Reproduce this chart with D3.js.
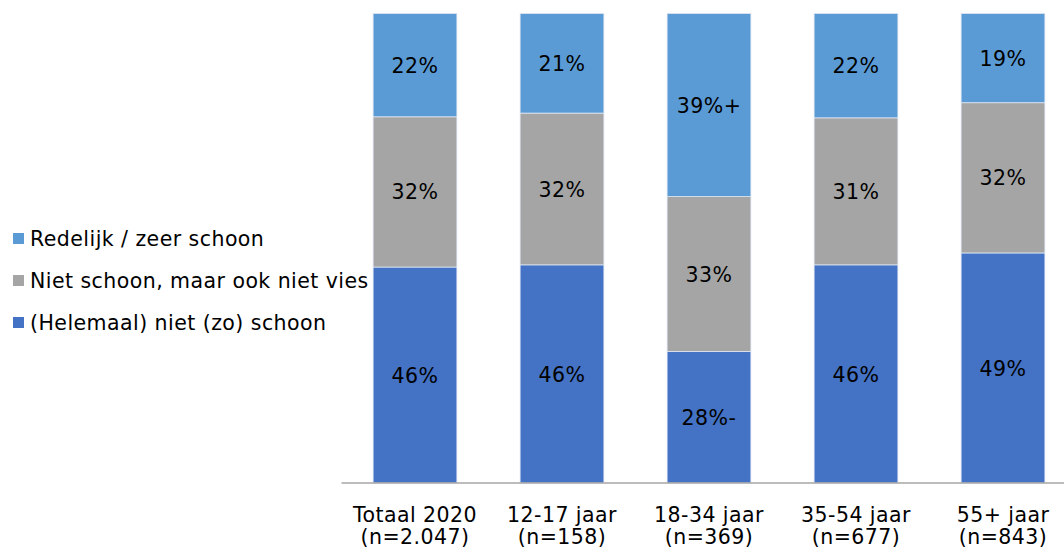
<!DOCTYPE html>
<html><head><meta charset="utf-8">
<script src="https://cdn.jsdelivr.net/npm/d3@7"></script>
<style>body{margin:0;background:#fff}svg{display:block}text{font-family:"DejaVu Sans",Verdana,sans-serif;fill:#000}</style>
</head><body>
<svg id="c" width="1064" height="552"></svg>
<script>
const categories = ["Totaal 2020","12-17 jaar","18-34 jaar","35-54 jaar","55+ jaar"];
const sampleSizes = ["(n=2.047)","(n=158)","(n=369)","(n=677)","(n=843)"];
const seriesNames = ["(Helemaal) niet (zo) schoon","Niet schoon, maar ook niet vies","Redelijk / zeer schoon"];
const nietSchoon = [46,46,28,46,49];
const neutraal = [32,32,33,31,32];
const schoon = [22,21,39,22,19];
const labelSuffix = [["","","-","",""],["","","","",""],["","","+","",""]];
const colors = ["#4472C4","#A5A5A5","#5B9BD5"];

const FS = "20.5px", LS = "0.45px";
const svg = d3.select("#c");
const data = categories.map((c,i)=>({cat:c, s0:nietSchoon[i], s1:neutraal[i], s2:schoon[i]}));
const keys = ["s0","s1","s2"];
const stack = d3.stack().keys(keys).offset(d3.stackOffsetExpand)(data);

const x = d3.scaleBand().domain(categories).range([341.5,1076.5]).paddingInner(0.43).paddingOuter(0.215);
const y = d3.scaleLinear().domain([0,1]).range([483,13.5]);

stack.forEach((layer,li)=>{
  const g = svg.append("g");
  g.selectAll("rect").data(layer).join("rect")
    .attr("x",d=>x(d.data.cat)).attr("width",x.bandwidth())
    .attr("y",d=>y(d[1])).attr("height",d=>y(d[0])-y(d[1]))
    .attr("fill",colors[li]).attr("stroke","#dfe7f3").attr("stroke-width",0.8);
  const vals = [nietSchoon,neutraal,schoon][li];
  g.selectAll("text").data(layer).join("text")
    .attr("x",d=>x(d.data.cat)+x.bandwidth()/2)
    .attr("y",d=>(y(d[0])+y(d[1]))/2)
    .attr("dy","0.37em").attr("text-anchor","middle").attr("font-size",FS).attr("letter-spacing",LS)
    .text((d,i)=>vals[i]+"%"+labelSuffix[li][i]);
});

const axis = d3.axisBottom(x).tickSize(0).tickFormat(()=> "");
const ag = svg.append("g").attr("transform","translate(0,483)").call(axis);
ag.select(".domain").attr("stroke","#a6a6a6").attr("stroke-width",1.5).attr("d","M341.5,0H1064");
ag.selectAll(".tick text").remove();
ag.selectAll(".tick").each(function(d,i){
  const t = d3.select(this).append("text").attr("text-anchor","middle").attr("font-size",FS).attr("letter-spacing",LS).style("fill","#000");
  t.append("tspan").attr("x",0).attr("y",38.7).text(categories[i]);
  t.append("tspan").attr("x",0).attr("y",60.5).text(sampleSizes[i]);
});

const legendOrder = [2,1,0];
const lg = svg.append("g");
legendOrder.forEach((si,j)=>{
  const cy = 238.5 + j*42;
  lg.append("rect").attr("x",13).attr("y",cy-5.5).attr("width",11).attr("height",11).attr("fill",colors[si]);
  lg.append("text").attr("x",30).attr("y",cy).attr("dy","0.37em").attr("font-size",FS).attr("letter-spacing",LS).text(seriesNames[si]);
});
</script>
</body></html>
